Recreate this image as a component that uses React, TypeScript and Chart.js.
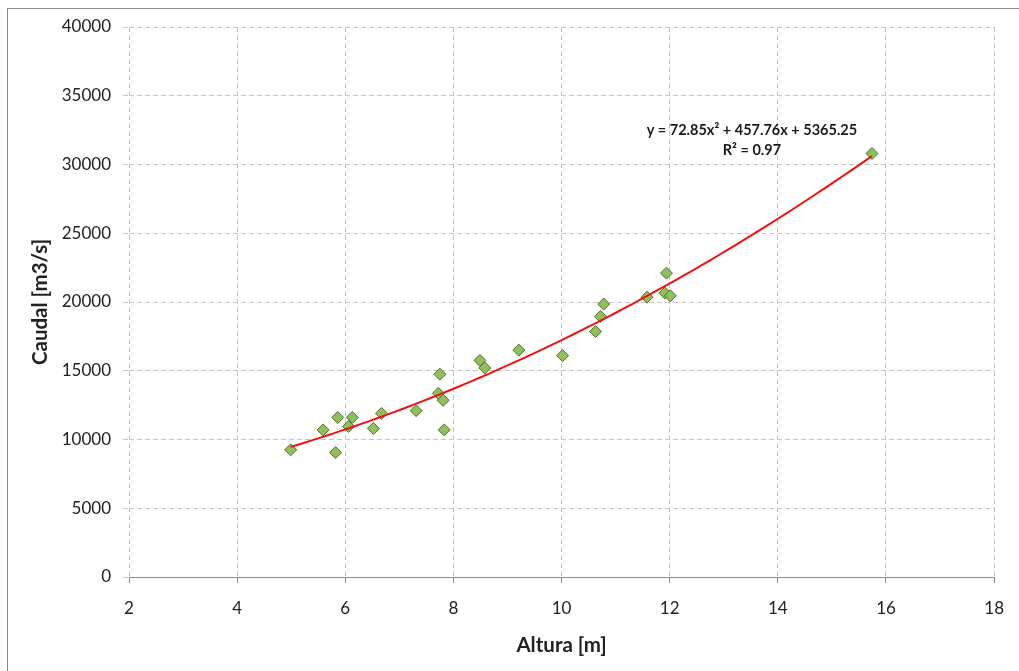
import React, { useEffect, useRef } from "react";
import { Chart, registerables } from "chart.js";

Chart.register(...registerables);

// Observed data (Altura [m] vs Caudal [m3/s])
const alturaM = [
  4.99, 5.59, 5.82, 5.86, 6.06, 6.13, 6.52, 6.67, 7.31, 7.75, 7.72, 7.81, 7.83,
  8.49, 8.58, 9.21, 10.02, 10.63, 10.72, 10.78, 11.58, 11.91, 11.94, 12.01, 15.74,
];
const caudalM3s = [
  9250, 10700, 9050, 11600, 10950, 11600, 10800, 11900, 12100, 14750, 13350, 12850,
  10700, 15750, 15200, 16500, 16100, 17850, 18950, 19850, 20350, 20650, 22100, 20450, 30800,
];

// Polynomial trendline (order 2) as reported on the chart
const trendA = 72.85;
const trendB = 457.76;
const trendC = 5365.25;
const trendLabel = "y = 72.85x\u00B2 + 457.76x + 5365.25";
const r2Label = "R\u00B2 = 0.97";

const xAxisTitle = "Altura [m]";
const yAxisTitle = "Caudal [m3/s]";
const xMin = 2, xMax = 18, xStep = 2;
const yMin = 0, yMax = 40000, yStep = 5000;

const FONT = "Lato, 'Open Sans', sans-serif";

export default function App() {
  const ref = useRef<HTMLCanvasElement | null>(null);

  useEffect(() => {
    if (!ref.current) return;
    const xs = alturaM;
    const lo = Math.min(...xs);
    const hi = Math.max(...xs);
    const trend: { x: number; y: number }[] = [];
    const n = 80;
    for (let i = 0; i <= n; i++) {
      const x = lo + ((hi - lo) * i) / n;
      trend.push({ x, y: trendA * x * x + trendB * x + trendC });
    }
    const pts = alturaM.map((x, i) => ({ x, y: caudalM3s[i] }));

    const annotation = {
      id: "trendAnnotation",
      afterDatasetsDraw(chart: any) {
        const { ctx, scales } = chart;
        const cx = scales.x.getPixelForValue(13.52);
        const cy = scales.y.getPixelForValue(32500);
        ctx.save();
        ctx.fillStyle = "#1a1a1a";
        ctx.font = `bold 14.5px ${FONT}`;
        ctx.textAlign = "center";
        ctx.textBaseline = "middle";
        ctx.fillText(trendLabel, cx, cy);
        ctx.fillText(r2Label, cx, cy + 20);
        ctx.restore();
      },
    };

    const chart = new Chart(ref.current, {
      type: "scatter",
      data: {
        datasets: [
          {
            label: "Tendencia",
            data: trend,
            showLine: true,
            borderColor: "#f01010",
            borderWidth: 2,
            pointRadius: 0,
            fill: false,
            order: 0,
          } as any,
          {
            label: "Caudal",
            data: pts,
            pointStyle: "rectRot",
            pointRadius: 6,
            backgroundColor: "#8fc05a",
            borderColor: "#4e6e2c",
            borderWidth: 1,
            order: 1,
          } as any,
        ],
      },
      options: {
        responsive: false,
        animation: false,
        layout: { padding: { top: 27, right: 19, left: 0, bottom: 0 } },
        plugins: { legend: { display: false }, tooltip: { enabled: false } },
        scales: {
          x: {
            type: "linear",
            min: xMin,
            max: xMax,
            afterFit: (s: any) => { s.height = 94; },
            ticks: {
              stepSize: xStep,
              color: "#222",
              font: { family: FONT, size: 17 },
              padding: 15,
            },
            grid: {
              color: "#c4c4c4",
              tickBorderDash: [],
              tickColor: "#8a8a8a",
              tickLength: 6,
            } as any,
            border: { display: true, color: "#8a8a8a", width: 1, dash: [5, 3] } as any,
            title: {
              display: true,
              text: xAxisTitle,
              color: "#222",
              font: { family: FONT, size: 20.5, weight: "bold" },
              padding: { top: 0, bottom: 13.7 },
            },
          },
          y: {
            type: "linear",
            min: yMin,
            max: yMax,
            afterFit: (s: any) => { s.width = 129; },
            ticks: {
              stepSize: yStep,
              color: "#222",
              font: { family: FONT, size: 17 },
              padding: 12,
              callback: (v: any) => String(v),
            },
            grid: {
              color: "#c4c4c4",
              tickColor: "#c4c4c4",
              tickLength: 6,
              tickBorderDash: [5, 3],
            } as any,
            border: { display: false, dash: [5, 3] } as any,
            title: {
              display: true,
              text: yAxisTitle,
              color: "#222",
              font: { family: FONT, size: 20.5, weight: "bold" },
              padding: { top: 27.7, bottom: 0 },
            },
          },
        },
      } as any,
      plugins: [annotation],
    });

    return () => chart.destroy();
  }, []);

  return (
    <div style={{ position: "fixed", left: 0, top: 0, width: 1019, height: 671, background: "#fff", overflow: "hidden" }}>
      <div
        style={{
          position: "absolute",
          left: 7,
          top: 8,
          width: 1030,
          height: 680,
          border: "1px solid #8c8c8c",
          pointerEvents: "none",
        }}
      />
      <canvas ref={ref} width={1019} height={671} style={{ position: "absolute", left: 0, top: 0, width: 1019, height: 671 }} />
    </div>
  );
}
